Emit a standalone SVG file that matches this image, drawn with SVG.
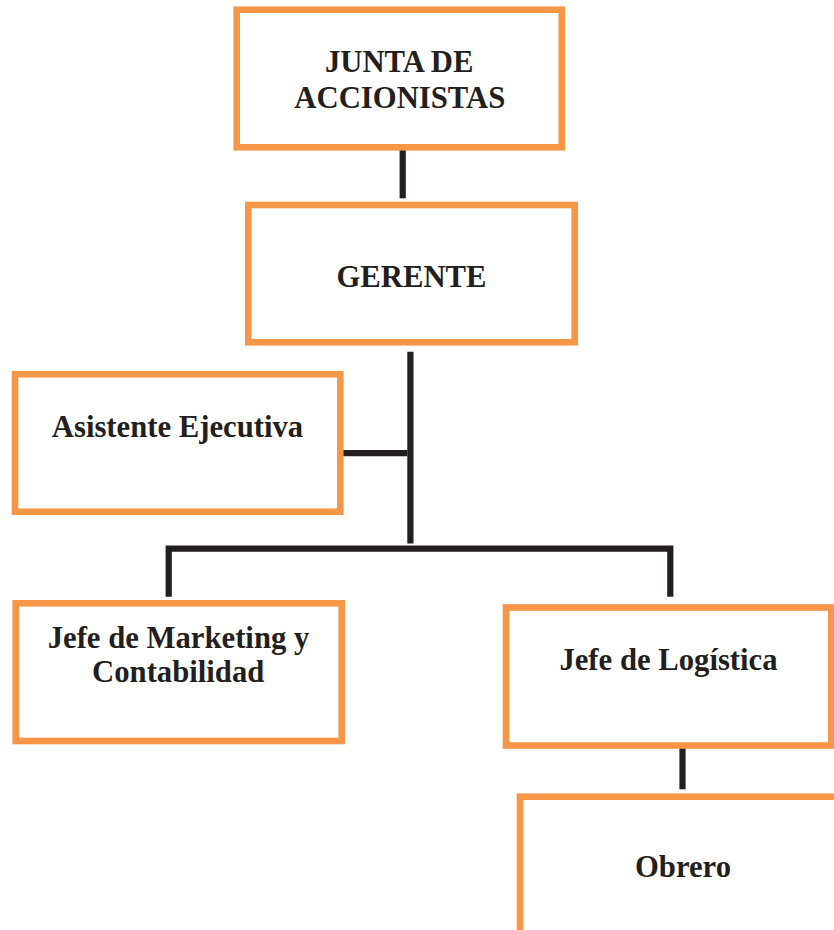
<svg xmlns="http://www.w3.org/2000/svg" width="834" height="930" viewBox="0 0 834 930">
<style>
.box{fill:#fff;stroke:#F79646;stroke-width:6.6}
.lbl{font-family:"Liberation Serif","Times New Roman",serif;font-weight:bold;font-size:30.7px;fill:#231F20;text-anchor:middle}
.ln{stroke:#231F20;stroke-width:6.2;fill:none}
</style>
<rect width="834" height="930" fill="#fff"/>
<g id="connectors">
<line class="ln" x1="402.7" y1="143" x2="402.7" y2="198.3"/>
<line class="ln" x1="410.4" y1="351.7" x2="410.4" y2="543.5"/>
<line class="ln" x1="343" y1="453.2" x2="407.3" y2="453.2"/>
<polyline class="ln" points="168.7,596.7 168.7,548.7 670.3,548.7 670.3,596.7"/>
<line class="ln" x1="682.5" y1="745" x2="682.5" y2="789.3"/>
</g>
<g id="junta">
<rect class="box" x="236.7" y="9.7" width="325" height="137.6"/>
<text class="lbl" x="399.2" y="71.7">JUNTA DE</text>
<text class="lbl" x="399.8" y="108.3">ACCIONISTAS</text>
</g>
<g id="gerente">
<rect class="box" x="248.3" y="205" width="326.4" height="137.3"/>
<text class="lbl" x="411.5" y="286.7">GERENTE</text>
</g>
<g id="asistente">
<rect class="box" x="15" y="374.2" width="325.3" height="137.5"/>
<text class="lbl" x="177.5" y="436.7">Asistente Ejecutiva</text>
</g>
<g id="marketing">
<rect class="box" x="15.7" y="603.3" width="326" height="137.7"/>
<text class="lbl" x="178.5" y="648.3">Jefe de Marketing y</text>
<text class="lbl" x="178.2" y="681.7">Contabilidad</text>
</g>
<g id="logistica">
<rect class="box" x="506" y="607.5" width="325.2" height="138"/>
<text class="lbl" x="668.5" y="670">Jefe de Logística</text>
</g>
<g id="obrero">
<rect class="box" x="520" y="796.7" width="326" height="137.5"/>
<text class="lbl" x="683" y="877.3">Obrero</text>
</g>
</svg>
